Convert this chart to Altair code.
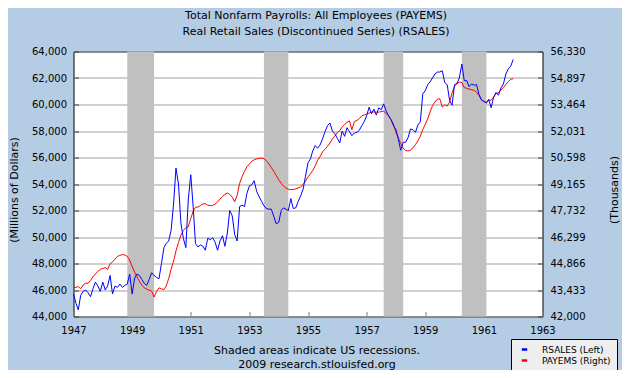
import altair as alt
import pandas as pd

# Monthly observations, Jan 1947 .. Jan 1962
months = pd.date_range("1947-01-01", "1962-01-01", freq="MS")
dates = [d.strftime("%Y-%m-%dT00:00:00") for d in months]

# Real Retail Sales (RSALES), millions of dollars, left axis
rsales = [
    45700, 45000, 44500, 45600, 45900, 46000, 45800, 45500, 46100, 46600, 46300, 45900,  # 1947
    46600, 46000, 46300, 47100, 45700, 46300, 46200, 46450, 46200, 46350, 46450, 47200,  # 1948
    45700, 46900, 47200, 47100, 46800, 46500, 46350, 46800, 47300, 47100, 46950, 46850,  # 1949
    48000, 49200, 49500, 49700, 50500, 52500, 55200, 54000, 51000, 49900, 49200, 52800,  # 1950
    54700, 52200, 49500, 49250, 49400, 49300, 49000, 49900, 49800, 49950, 49600, 49000,  # 1951
    49700, 50100, 49300, 50300, 52000, 51600, 50200, 49700, 52300, 52400, 52300, 53300,  # 1952
    53850, 53950, 54250, 53450, 53050, 52700, 52350, 52150, 52100, 52100, 51550, 51000,  # 1953
    51100, 52000, 52200, 52100, 52000, 52900, 52150, 52200, 52700, 53100, 53600, 54600,  # 1954
    55600, 55900, 56500, 56900, 56700, 56950, 57400, 57950, 58400, 58600, 58000, 57800,  # 1955
    57450, 57100, 58000, 57600, 58250, 57950, 57650, 57850, 57900, 58050, 58400, 58700,  # 1956
    59150, 59800, 59300, 59650, 59200, 59750, 59600, 60050, 59500, 59150, 58850, 58400,  # 1957
    58100, 57350, 56550, 57150, 57150, 57500, 58150, 58100, 57900, 58450, 58700, 60800,  # 1958
    61050, 61500, 61700, 62000, 62300, 62450, 62450, 62550, 61650, 61500, 60300, 59950,  # 1959
    61500, 61600, 62000, 63050, 61800, 61800, 61350, 61550, 61450, 61500, 60750, 60350,  # 1960
    60250, 60100, 60400, 59750, 60550, 60900, 60700, 61250, 61550, 62300, 62680, 62900,  # 1961
    63400,                                                                                # 1962
]

# Total Nonfarm Payrolls (PAYEMS), thousands, right axis
payems = [
    43550, 43580, 43620, 43500, 43700, 43800, 43800, 43950, 44150, 44300, 44450, 44550,  # 1947
    44600, 44650, 44550, 44850, 44950, 45100, 45250, 45300, 45350, 45330, 45250, 45050,  # 1948
    44700, 44400, 44150, 43900, 43700, 43550, 43480, 43420, 43380, 43050, 43350, 43550,  # 1949
    43500, 43450, 43650, 44050, 44550, 45000, 45550, 46000, 46400, 46650, 46800, 46850,  # 1950
    47300, 47700, 47900, 47920, 48000, 48090, 48100, 48020, 48000, 48000, 48080, 48200,  # 1951
    48350, 48500, 48600, 48680, 48600, 48450, 48200, 48550, 49200, 49550, 49850, 50100,  # 1952
    50250, 50400, 50470, 50520, 50550, 50560, 50530, 50420, 50250, 50050, 49850, 49620,  # 1953
    49400, 49200, 49050, 48950, 48880, 48860, 48870, 48900, 48950, 49000, 49150, 49300,  # 1954
    49550, 49720, 49900, 50150, 50450, 50650, 50900, 51050, 51200, 51380, 51600, 51750,  # 1955
    51950, 52050, 52250, 52380, 52500, 52580, 52100, 52550, 52600, 52700, 52850, 52900,  # 1956
    52950, 53000, 53050, 53060, 53050, 53050, 53080, 53100, 52980, 52850, 52650, 52400,  # 1957
    51950, 51650, 51350, 51100, 50980, 50950, 51000, 51120, 51300, 51500, 51750, 52100,  # 1958
    52400, 52700, 53050, 53400, 53600, 53750, 53780, 53330, 53450, 53380, 53600, 54100,  # 1959
    54450, 54600, 54680, 54650, 54380, 54340, 54300, 54260, 54230, 54130, 53950, 53720,  # 1960
    53620, 53590, 53680, 53700, 53860, 54060, 54100, 54250, 54380, 54550, 54700, 54830,  # 1961
    54860,                                                                                # 1962
]

# US recessions (shaded)
rec_start = ["1948-11-01", "1953-07-01", "1957-08-01", "1960-04-01"]
rec_end = ["1949-10-01", "1954-05-01", "1958-04-01", "1961-02-01"]

series_names = ["RSALES (Left)", "PAYEMS (Right)"]
series_colors = ["#0000ff", "#ff0000"]

left_ticks = list(range(44000, 64001, 2000))
right_ticks = [42000, 43433, 44866, 46299, 47732, 49165, 50598, 52031, 53464, 54897, 56330]
x_years = list(range(1947, 1964, 2))

footer = ["Shaded areas indicate US recessions.", "2009 research.stlouisfed.org"]
titles = ["Total Nonfarm Payrolls: All Employees (PAYEMS)",
          "Real Retail Sales (Discontinued Series) (RSALES)"]

FONT = "DejaVu Sans"

blue_df = pd.DataFrame({"date": dates, "value": rsales, "series": series_names[0]})
red_df = pd.DataFrame({"date": dates, "value": payems, "series": series_names[1]})
rec_df = pd.DataFrame({"start": [s + "T00:00:00" for s in rec_start],
                       "end": [e + "T00:00:00" for e in rec_end]})

xscale = alt.Scale(domain=[alt.DateTime(year=1947, month=1, date=1),
                           alt.DateTime(year=1963, month=1, date=1)])
xaxis = alt.Axis(
    values=[alt.DateTime(year=y, month=1, date=1) for y in x_years],
    format="%Y", grid=False, domain=False, offset=-5, tickSize=5,
    tickColor="#808080", labelPadding=9, labelFont=FONT, labelFontSize=10,
    labelColor="black", labelFlush=False, labelOverlap=False,
    title=footer, titleFont=FONT, titleFontSize=11, titleFontWeight="normal",
    titleColor="black", titleX=243, titleY=33, titleAlign="center",
    titleBaseline="top", titleLineHeight=14,
)

color = alt.Color("series:N",
                  scale=alt.Scale(domain=series_names, range=series_colors),
                  legend=alt.Legend(
                      orient="none", legendX=437.5, legendY=287.5, title=None,
                      fillColor="#eeeeee", strokeColor="black", padding=6,
                      cornerRadius=0, symbolType="stroke", symbolStrokeWidth=2.5,
                      symbolSize=30, symbolOffset=3, labelOffset=13,
                      labelFont=FONT, labelFontSize=9, labelColor="black",
                      rowPadding=0,
                  ))

rects = alt.Chart(rec_df).mark_rect(color="#c0c0c0").encode(
    x=alt.X("start:T", scale=xscale, axis=xaxis),
    x2="end:T",
)

red = alt.Chart(red_df).mark_line(strokeWidth=1).encode(
    x=alt.X("date:T", scale=xscale, axis=xaxis),
    y=alt.Y("value:Q",
            scale=alt.Scale(domain=[42000, 56330], nice=False, zero=False),
            axis=alt.Axis(orient="right", values=right_ticks, format=",.0f",
                          grid=False, domain=False, offset=-5, tickSize=5,
                          tickColor="#404040", labelPadding=7.5,
                          labelFont=FONT, labelFontSize=10, labelColor="black",
                          labelFlush=False, labelOverlap=False,
                          title="(Thousands)", titleFont=FONT, titleFontSize=11,
                          titleFontWeight="normal", titleColor="black",
                          titleAngle=270, titleX=77, titleY=138,
                          titleAlign="center", titleBaseline="middle")),
    color=color,
)

blue = alt.Chart(blue_df).mark_line(strokeWidth=1).encode(
    x=alt.X("date:T", scale=xscale, axis=xaxis),
    y=alt.Y("value:Q",
            scale=alt.Scale(domain=[44000, 64000], nice=False, zero=False),
            axis=alt.Axis(orient="left", values=left_ticks, format=",.0f",
                          grid=True, gridColor="#a0a0a0", gridWidth=1,
                          domain=False, offset=-5, tickSize=5,
                          tickColor="#404040", labelPadding=7,
                          labelFont=FONT, labelFontSize=10, labelColor="black",
                          labelFlush=False, labelOverlap=False,
                          title="(Millions of Dollars)", titleFont=FONT,
                          titleFontSize=11, titleFontWeight="normal",
                          titleColor="black", titleAngle=270, titleX=-64,
                          titleY=138, titleAlign="center",
                          titleBaseline="middle")),
    color=color,
)

chart = alt.layer(rects, red, blue).resolve_scale(y="independent").properties(
    width=469,
    height=265,
    autosize=alt.AutoSizeParams(type="none"),
    padding={"left": 65.5, "top": 43.5, "right": 79.5, "bottom": 53.5},
    background="#b4cce4",
    title=alt.TitleParams(text=titles, font=FONT, fontSize=11,
                          fontWeight="normal", color="black", anchor="middle",
                          dx=8, offset=10, lineHeight=16),
).configure_view(stroke="black", strokeWidth=1, fill="white")

chart.save("out.html", embed_options={"renderer": "svg", "actions": False})
